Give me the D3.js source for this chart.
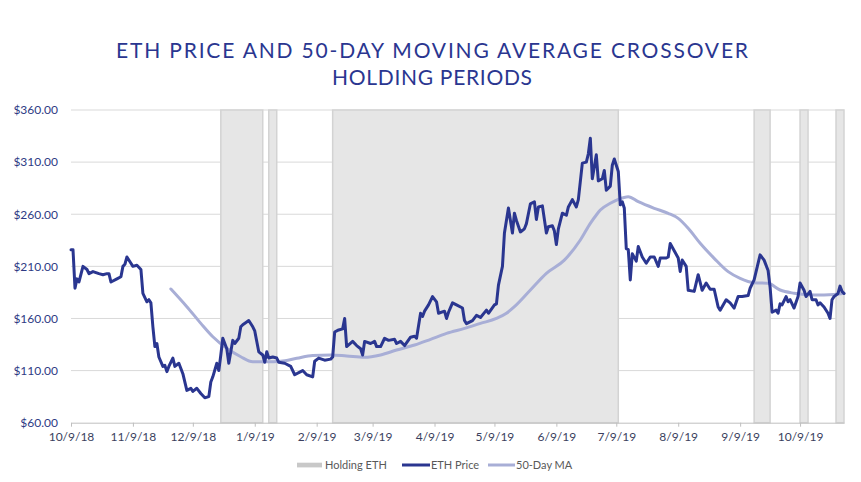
<!DOCTYPE html>
<html><head><meta charset="utf-8">
<script src="https://cdn.jsdelivr.net/npm/d3@7"></script>
<style>body{margin:0;background:#fff}svg{display:block}</style>
</head><body>
<svg id="chart" width="861" height="482"></svg>
<script>
// ---------- DATA ----------
const priceDates = [
"2018-10-09","2018-10-10","2018-10-11","2018-10-12","2018-10-13","2018-10-15","2018-10-17","2018-10-18","2018-10-20","2018-10-23",
"2018-10-25","2018-10-27","2018-10-28","2018-10-29","2018-11-01","2018-11-03","2018-11-04","2018-11-05","2018-11-06","2018-11-08",
"2018-11-09","2018-11-11","2018-11-13","2018-11-14","2018-11-16","2018-11-17","2018-11-18","2018-11-19","2018-11-20","2018-11-21",
"2018-11-22","2018-11-24","2018-11-25","2018-11-26","2018-11-27","2018-11-29","2018-11-30","2018-12-02","2018-12-03","2018-12-04",
"2018-12-06","2018-12-08","2018-12-09","2018-12-11","2018-12-13","2018-12-15","2018-12-17","2018-12-18","2018-12-19","2018-12-21",
"2018-12-22","2018-12-23","2018-12-24","2018-12-26","2018-12-27","2018-12-29","2018-12-30","2019-01-01","2019-01-02","2019-01-03",
"2019-01-06","2019-01-08","2019-01-09","2019-01-11","2019-01-13","2019-01-14","2019-01-15","2019-01-16","2019-01-18","2019-01-20",
"2019-01-21","2019-01-24","2019-01-27","2019-01-29","2019-02-01","2019-02-02","2019-02-04","2019-02-07","2019-02-08","2019-02-10",
"2019-02-13","2019-02-16","2019-02-17","2019-02-18","2019-02-20","2019-02-22","2019-02-23","2019-02-24","2019-02-27","2019-03-01",
"2019-03-03","2019-03-04","2019-03-05","2019-03-08","2019-03-10","2019-03-11","2019-03-13","2019-03-15","2019-03-17","2019-03-20",
"2019-03-21","2019-03-23","2019-03-25","2019-03-28","2019-03-30","2019-03-31","2019-04-02","2019-04-03","2019-04-04","2019-04-06",
"2019-04-08","2019-04-10","2019-04-11","2019-04-14","2019-04-15","2019-04-16","2019-04-18","2019-04-20","2019-04-23","2019-04-24",
"2019-04-25","2019-04-28","2019-04-30","2019-05-02","2019-05-05","2019-05-06","2019-05-09","2019-05-10","2019-05-11","2019-05-13",
"2019-05-14","2019-05-16","2019-05-18","2019-05-19","2019-05-20","2019-05-22","2019-05-24","2019-05-25","2019-05-27","2019-05-29",
"2019-05-30","2019-05-31","2019-06-02","2019-06-04","2019-06-05","2019-06-07","2019-06-08","2019-06-09","2019-06-10","2019-06-12",
"2019-06-14","2019-06-15","2019-06-17","2019-06-19","2019-06-20","2019-06-22","2019-06-24","2019-06-25","2019-06-26","2019-06-27",
"2019-06-29","2019-06-30","2019-07-02","2019-07-03","2019-07-04","2019-07-06","2019-07-07","2019-07-08","2019-07-10","2019-07-11",
"2019-07-12","2019-07-13","2019-07-14","2019-07-15","2019-07-16","2019-07-17","2019-07-19","2019-07-20","2019-07-22","2019-07-24",
"2019-07-26","2019-07-28","2019-07-30","2019-07-31","2019-08-03","2019-08-04","2019-08-05","2019-08-07","2019-08-09","2019-08-10",
"2019-08-11","2019-08-13","2019-08-14","2019-08-17","2019-08-19","2019-08-21","2019-08-23","2019-08-25","2019-08-27","2019-08-29",
"2019-08-30","2019-09-02","2019-09-04","2019-09-06","2019-09-08","2019-09-10","2019-09-13","2019-09-14","2019-09-16","2019-09-18",
"2019-09-19","2019-09-21","2019-09-23","2019-09-24","2019-09-25","2019-09-27","2019-09-28","2019-09-29","2019-09-30","2019-10-02",
"2019-10-03","2019-10-04","2019-10-06","2019-10-08","2019-10-09","2019-10-11","2019-10-12","2019-10-14","2019-10-15","2019-10-17",
"2019-10-18","2019-10-19","2019-10-21","2019-10-23","2019-10-24","2019-10-25","2019-10-26","2019-10-28","2019-10-29","2019-10-30",
"2019-10-31"];
const priceValues = [
226,226,189,198,195,210,207,203,205,203,
202,203,203,195,198,200,210,212,219,213,
210,211,207,184,176,178,175,152,133,136,
123,114,115,109,114,122,114,117,112,107,
91,93,90,93,88,84,85,99,104,117,
110,125,141,131,117,139,136,141,152,154,
158,152,148,128,125,118,128,122,123,122,
118,117,114,106,109,110,106,104,119,122,
120,121,123,147,149,150,160,133,138,134,
131,125,138,136,138,133,133,141,139,140,
136,138,134,142,143,141,165,162,167,173,
181,176,165,167,160,166,175,173,170,158,
155,158,163,161,168,165,173,174,192,210,
242,266,242,261,254,243,246,251,270,272,
255,267,268,242,248,249,244,231,246,261,
259,267,274,267,274,309,310,318,333,294,
317,292,294,302,283,287,307,313,301,269,
272,266,227,226,197,222,215,229,219,213,
219,219,210,218,218,219,232,225,218,205,
216,210,187,186,202,187,194,188,188,171,
168,178,175,170,181,181,182,189,197,213,
221,216,206,190,166,168,165,174,173,181,
176,178,170,181,194,187,181,186,178,178,
173,175,171,165,160,178,181,184,191,186,
184];

const maDates = [
"2018-11-28","2018-12-06","2018-12-13","2018-12-19","2018-12-26","2019-01-02","2019-01-08","2019-01-15","2019-01-22","2019-01-30",
"2019-02-07","2019-02-16","2019-02-24","2019-03-05","2019-03-13","2019-03-21","2019-03-30","2019-04-07","2019-04-15","2019-04-24",
"2019-05-02","2019-05-10","2019-05-15","2019-05-19","2019-05-27","2019-06-04","2019-06-13","2019-06-21","2019-06-26","2019-06-29",
"2019-07-01","2019-07-06","2019-07-10","2019-07-15","2019-07-20","2019-07-28","2019-08-04","2019-08-09","2019-08-14","2019-08-20",
"2019-08-27","2019-09-03","2019-09-09","2019-09-16","2019-09-23","2019-09-29","2019-10-06","2019-10-16","2019-10-26","2019-10-31"];
const maValues = [
188.3,171.3,155.3,142.5,131.4,123.3,118.5,118.5,119.0,121.8,
124.5,125.0,124.0,122.7,125.0,129.7,134.5,140.0,145.7,150.5,
155.3,160.0,165.0,171.3,187.3,203.3,216.0,235.3,251.3,259.3,
264.0,270.5,274.3,276.8,272.0,265.7,260.9,256.0,246.5,232.1,
217.7,204.9,198.5,194.3,193.7,187.3,184.2,182.5,183.0,184.2];

const holdStarts = ["2018-12-23","2019-01-16","2019-02-17","2019-09-16","2019-10-09","2019-10-27"];
const holdEnds   = ["2019-01-13","2019-01-20","2019-07-10","2019-09-24","2019-10-13","2019-10-31"];

const xDomain = ["2018-10-09","2019-10-31"];
const xTickDates = ["2018-10-09","2018-11-09","2018-12-09","2019-01-09","2019-02-09","2019-03-09",
                    "2019-04-09","2019-05-09","2019-06-09","2019-07-09","2019-08-09","2019-09-09","2019-10-09"];
const yTickValues = [60,110,160,210,260,310,360];
const titleLines = ["ETH PRICE AND 50-DAY MOVING AVERAGE CROSSOVER","HOLDING PERIODS"];
const legendLabels = ["Holding ETH","ETH Price","50-Day MA"];

// ---------- DRAWING ----------
const parse = d3.timeParse("%Y-%m-%d");
const svg = d3.select("#chart");
const FONT = "Lato, 'Open Sans', sans-serif";
const NAVY = "#2a3690";
const MA_COL = "#a8aed6";
const L = 71, R = 844, T = 110, B = 422.7;

const x = d3.scaleTime().domain(xDomain.map(parse)).range([L, R]);
const y = d3.scaleLinear().domain([60, 360]).range([B, T]);

// gridlines
svg.append("g").selectAll("line").data(yTickValues.filter(v => v !== 60)).join("line")
  .attr("x1", L).attr("x2", R)
  .attr("y1", d => y(d)).attr("y2", d => y(d))
  .attr("stroke", "#d9d9d9").attr("stroke-width", 1);

// holding bands
svg.append("g").selectAll("rect").data(holdStarts.map((s, i) => ({s: parse(s), e: parse(holdEnds[i])}))).join("rect")
  .attr("x", d => x(d.s)).attr("width", d => x(d.e) - x(d.s))
  .attr("y", T).attr("height", B - T)
  .attr("fill", "#e6e6e6").attr("stroke", "#d3d3d3").attr("stroke-width", 1.5);

// y axis
const yAxis = svg.append("g").attr("transform", `translate(${L},0)`)
  .call(d3.axisLeft(y).tickValues(yTickValues).tickFormat(d => "$" + d.toFixed(2)).tickSize(0).tickPadding(13));
yAxis.select(".domain").remove();
yAxis.selectAll("text").attr("font-family", FONT).attr("font-size", 12).attr("fill", "#2e3a84");

// x axis
const xAxis = svg.append("g").attr("transform", `translate(0,${B})`)
  .call(d3.axisBottom(x).tickValues(xTickDates.map(parse)).tickFormat(d3.timeFormat("%-m/%-d/%y"))
        .tickSize(4).tickSizeOuter(0).tickPadding(6));
xAxis.select(".domain").attr("stroke", "#bfbfbf");
xAxis.selectAll(".tick line").attr("stroke", "#bfbfbf");
xAxis.selectAll("text").attr("font-family", FONT).attr("font-size", 12).attr("fill", "#3b3f5e");

// lines
const line = d3.line().x(d => x(d[0])).y(d => y(d[1]));
svg.append("path").datum(maDates.map((d, i) => [parse(d), maValues[i]]))
  .attr("d", line.curve(d3.curveMonotoneX)).attr("fill", "none")
  .attr("stroke", MA_COL).attr("stroke-width", 3).attr("stroke-linejoin", "round").attr("stroke-linecap", "round");
svg.append("path").datum(priceDates.map((d, i) => [parse(d), priceValues[i]]))
  .attr("d", line.curve(d3.curveLinear)).attr("fill", "none")
  .attr("stroke", NAVY).attr("stroke-width", 3).attr("stroke-linejoin", "round").attr("stroke-linecap", "round");

// title
const titleY = [58.3, 85];
const titleW = [632, 200];
titleLines.forEach((t, i) => {
  svg.append("text").attr("x", 432).attr("y", titleY[i]).attr("text-anchor", "middle")
    .attr("font-family", FONT).attr("font-size", 21).attr("fill", NAVY)
    .attr("textLength", titleW[i]).attr("lengthAdjust", "spacing").text(t);
});

// legend
const lg = svg.append("g").attr("font-family", FONT).attr("font-size", 11).attr("fill", "#595959");
lg.append("rect").attr("x", 297).attr("y", 462.7).attr("width", 25).attr("height", 4.7).attr("fill", "#c8c8c8");
lg.append("text").attr("x", 325).attr("y", 469).text(legendLabels[0]);
lg.append("line").attr("x1", 402).attr("x2", 430).attr("y1", 465).attr("y2", 465).attr("stroke", NAVY).attr("stroke-width", 3);
lg.append("text").attr("x", 431).attr("y", 469).text(legendLabels[1]);
lg.append("line").attr("x1", 488).attr("x2", 515).attr("y1", 465).attr("y2", 465).attr("stroke", MA_COL).attr("stroke-width", 3);
lg.append("text").attr("x", 516).attr("y", 469).text(legendLabels[2]);
</script>
</body></html>
